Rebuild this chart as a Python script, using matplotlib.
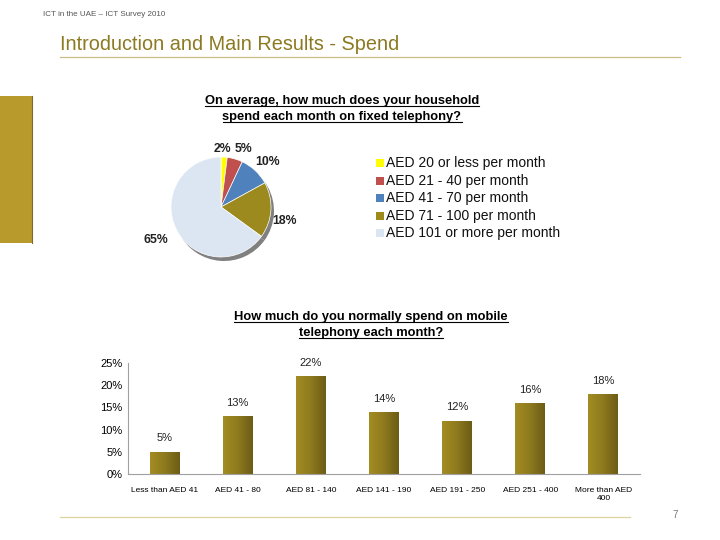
import matplotlib
matplotlib.use("Agg")
import matplotlib.pyplot as plt
import numpy as np
from matplotlib.lines import Line2D
from matplotlib.colors import LinearSegmentedColormap

plt.rcParams['font.family'] = ['Liberation Sans', 'DejaVu Sans']

# ---- data ----
pie_labels = ["AED 20 or less per month", "AED 21 - 40 per month",
              "AED 41 - 70 per month", "AED 71 - 100 per month",
              "AED 101 or more per month"]
pie_values = [2, 5, 10, 18, 65]
pie_colors = ["#FFFF00", "#C0504D", "#4F81BD", "#9C8A1E", "#DCE6F2"]

bar_categories = ["Less than AED 41", "AED 41 - 80", "AED 81 - 140",
                  "AED 141 - 190", "AED 191 - 250", "AED 251 - 400",
                  "More than AED\n400"]
bar_values = [5, 13, 22, 14, 12, 16, 18]
y_ticks = [0, 5, 10, 15, 20, 25]

W, H = 720, 540
fig = plt.figure(figsize=(7.2, 5.4), dpi=100)
fig.patch.set_facecolor("white")

def fx(x): return x / W
def fy(y): return 1 - y / H

# header
fig.text(fx(43), fy(14), "ICT in the UAE \u2013 ICT Survey 2010", fontsize=5.8,
         color="#555555", va="center", ha="left")
fig.text(fx(60), fy(44), "Introduction and Main Results - Spend", fontsize=14.3,
         color="#8C7A22", va="center", ha="left")
fig.add_artist(Line2D([fx(60), fx(680)], [fy(57), fy(57)], color="#C8BE84", lw=0.9))
# left gold block
fig.add_artist(plt.Rectangle((0, fy(243)), fx(32), (243 - 96) / H,
                             facecolor="#B89A2C", edgecolor="none"))
fig.add_artist(Line2D([fx(32), fx(32)], [fy(96), fy(243)], color="#7A6A30", lw=0.8))
# bottom line & page number
fig.add_artist(Line2D([fx(60), fx(630)], [fy(517), fy(517)], color="#DCD49C", lw=0.9))
fig.text(fx(675), fy(515), "7", fontsize=7, color="#777777", ha="center", va="center")

# titles (underlined)
titles = []
titles.append(fig.text(fx(342), fy(101), "On average, how much does your household",
                       fontsize=9.3, fontweight="bold", ha="center", va="center"))
titles.append(fig.text(fx(342), fy(117), "spend each month on fixed telephony?",
                       fontsize=9.3, fontweight="bold", ha="center", va="center"))
titles.append(fig.text(fx(371), fy(317), "How much do you normally spend on mobile",
                       fontsize=9.3, fontweight="bold", ha="center", va="center"))
titles.append(fig.text(fx(371), fy(333), "telephony each month?",
                       fontsize=9.3, fontweight="bold", ha="center", va="center"))

# ---- pie ----
cx, cy, R = 221, 207, 50
half = 1.25 * R
pax = fig.add_axes([fx(cx - half), fy(cy + half), 2 * half / W, 2 * half / H])
# shadow
pax.pie(pie_values, startangle=90, counterclock=False, center=(0.06, -0.08),
        colors=["#808080"] * len(pie_values), radius=1.0,
        wedgeprops=dict(linewidth=0))
wedges, _ = pax.pie(pie_values, startangle=90, counterclock=False,
                    colors=pie_colors, radius=1.0,
                    wedgeprops=dict(linewidth=0.5, edgecolor="white"))
label_r = [1.16, 1.24, 1.3, 1.3, 1.46]
label_a = [89, 69, 44, -12, -153]
for v, r, a in zip(pie_values, label_r, label_a):
    pax.text(r * np.cos(np.radians(a)), r * np.sin(np.radians(a)), f"{v}%",
             ha="center", va="center", fontsize=8.8, fontweight="bold", color="#222222")
pax.set_xlim(-1.25, 1.25)
pax.set_ylim(-1.25, 1.25)
pax.set_aspect("equal")
pax.axis("off")

# legend
for i, (lab, col) in enumerate(zip(pie_labels, pie_colors)):
    yy = 163 + i * 17.6
    fig.add_artist(plt.Rectangle((fx(376), fy(yy + 4)), 8 / W, 8 / H,
                                 facecolor=col, edgecolor="none"))
    fig.text(fx(386), fy(yy), lab, fontsize=10, ha="left", va="center", color="#111111")

# ---- bars ----
bax = fig.add_axes([fx(128), fy(474), (640 - 128) / W, (474 - 363) / H])
x = np.arange(len(bar_categories))
bars = bax.bar(x, bar_values, width=0.41, color="#8A7620", edgecolor="none")
grad = np.linspace(0, 1, 64).reshape(1, -1)
cmap = LinearSegmentedColormap.from_list("olive", ["#A38C22", "#8E7A1E", "#6C5C16"])
for b in bars:
    x0, y0 = b.get_x(), b.get_y()
    im = bax.imshow(grad, extent=[x0, x0 + b.get_width(), y0, y0 + b.get_height()],
                    aspect="auto", cmap=cmap, zorder=2)
    im.set_clip_path(b)
for xi, v in zip(x, bar_values):
    bax.text(xi, v + 3, f"{v}%", ha="center", va="center", fontsize=8, color="#222222")
bax.set_xlim(-0.5, len(bar_categories) - 0.5)
bax.set_ylim(0, 25)
bax.set_yticks(y_ticks)
bax.set_yticklabels([f"{t}%" for t in y_ticks], fontsize=8)
bax.set_xticks(x)
bax.set_xticklabels(bar_categories, fontsize=6)
bax.tick_params(axis="both", length=0, pad=4)
bax.tick_params(axis="x", pad=9)
for s in ["top", "right"]:
    bax.spines[s].set_visible(False)
for s in ["left", "bottom"]:
    bax.spines[s].set_color("#A0A0A0")
    bax.spines[s].set_linewidth(0.8)

# underline titles
fig.canvas.draw()
r = fig.canvas.get_renderer()
for t in titles:
    bb = t.get_window_extent(renderer=r)
    yline = bb.y0 + 1
    fig.add_artist(Line2D([bb.x0 / W, bb.x1 / W], [yline / H, yline / H],
                          color="black", lw=0.8, transform=fig.transFigure))

fig.savefig("out.png", dpi=100)
